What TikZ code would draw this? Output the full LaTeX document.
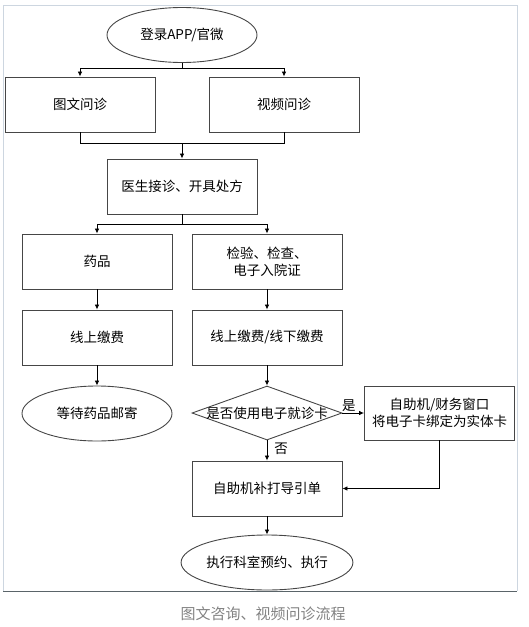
\documentclass[tikz,border=0pt]{standalone}
\usepackage{fontspec}
\setmainfont{Noto Sans CJK SC}
\usetikzlibrary{shapes.geometric,arrows.meta}
\definecolor{framec}{RGB}{205,214,224}
\definecolor{basec}{RGB}{90,100,105}
\definecolor{capc}{RGB}{130,130,130}
\definecolor{boxc}{RGB}{70,70,70}
\begin{document}
\begin{tikzpicture}[x=1pt,y=-1pt,
  every node/.style={font=\fontsize{13.5}{17}\selectfont},
  boxn/.style={draw=boxc,line width=0.9pt,rectangle,minimum width=150pt,minimum height=55pt,inner sep=0pt,align=center},
  ovaln/.style={draw=boxc,line width=0.9pt,ellipse,minimum width=150pt,minimum height=55pt,inner sep=0pt},
  dian/.style={draw=boxc,line width=0.9pt,diamond,minimum width=150pt,minimum height=54pt,inner sep=0pt},
  conn/.style={line width=0.8pt,black},
  arr/.style={conn,-{Latex[length=5pt,width=4.5pt]}},
  lab/.style={font=\fontsize{13.5}{17}\selectfont,inner sep=1pt}]
\useasboundingbox (0,0) rectangle (528,627);
\draw[framec,line width=0.8pt] (3,591) -- (3,5) -- (517,5) -- (517,591);
\draw[basec,line width=1pt] (3,591) -- (517,591);

\node[ovaln] (start) at (182,35) {登录APP/官微};
\node[boxn] (tw) at (80,104.5) {图文问诊};
\node[boxn] (sp) at (284,104.5) {视频问诊};
\node[boxn] (doc) at (182,186.5) {医生接诊、开具处方};
\node[boxn] (yp) at (97,261.5) {药品};
\node[boxn] (jy) at (267,261.5) {检验、检查、\\电子入院证};
\node[boxn] (pay1) at (97,337.5) {线上缴费};
\node[boxn] (pay2) at (267,337.5) {线上缴费/线下缴费};
\node[ovaln] (wait) at (97,413.5) {等待药品邮寄};
\node[dian,label={[font=\fontsize{13.5}{17}\selectfont]center:是否使用电子就诊卡}] (dia) at (267,413) {};
\node[boxn,minimum height=54pt] (bind) at (439.5,413) {自助机/财务窗口\\将电子卡绑定为实体卡};
\node[boxn] (print) at (267,488.5) {自助机补打导引单};
\node[ovaln] (exec) at (267,562.5) {执行科室预约、执行};

\coordinate (b1) at (182,68);
\draw[conn] (start.south) -- (b1);
\draw[arr] (b1) -| (tw.north);
\draw[arr] (b1) -| (sp.north);

\coordinate (m1) at (182,143);
\draw[conn] (tw.south) |- (m1);
\draw[conn] (sp.south) |- (m1);
\draw[arr] (m1) -- (doc.north);

\coordinate (b2) at (182,224);
\draw[conn] (doc.south) -- (b2);
\draw[arr] (b2) -| (yp.north);
\draw[arr] (b2) -| (jy.north);

\draw[arr] (yp) -- (pay1);
\draw[arr] (jy) -- (pay2);
\draw[arr] (pay1) -- (wait);
\draw[arr] (pay2) -- (dia.north);
\draw[arr] (dia.east) -- node[lab,pos=0.3,above] (yes) {是} (bind.west);
\draw[arr] (dia.south) -- node[lab,pos=0.4,right=6pt] (no) {否} (print.north);
\draw[arr] (bind.south) |- (print.east);
\draw[arr] (print) -- (exec);

\node[font=\fontsize{15}{18}\selectfont,text=capc] (cap) at (263,614) {图文咨询、视频问诊流程};
\end{tikzpicture}
\end{document}
